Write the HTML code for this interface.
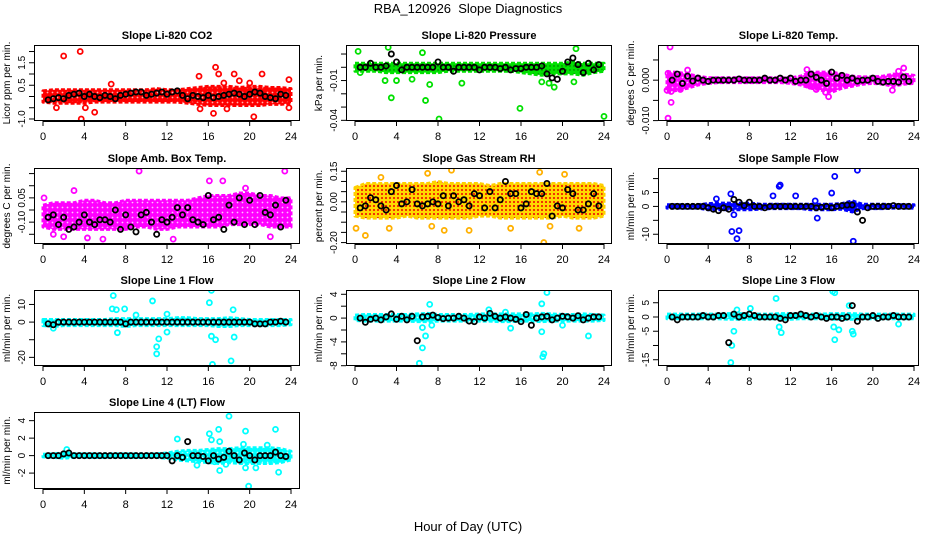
<!DOCTYPE html>
<html><head><meta charset="utf-8"><style>
html,body{margin:0;padding:0;background:#fff}
svg{display:block;font-family:"Liberation Sans",Arial,sans-serif}
</style></head><body>
<svg id="chart" width="936" height="540" viewBox="0 0 936 540" xmlns="http://www.w3.org/2000/svg">
<defs>
<pattern id="p-red" width="5" height="5" patternUnits="userSpaceOnUse"><rect width="5" height="5" fill="#f00"/><circle cx="2.5" cy="2.5" r="0.9" fill="#ffb0b0"/></pattern>
<pattern id="p-green" width="4" height="4" patternUnits="userSpaceOnUse"><rect width="4" height="4" fill="#00e000"/><circle cx="2" cy="2" r="0.7" fill="#006000"/></pattern>
<pattern id="p-mag" width="5" height="5" patternUnits="userSpaceOnUse"><rect width="5" height="5" fill="#f0f"/><circle cx="2.5" cy="2.5" r="0.9" fill="#ffc0ff"/></pattern>
<pattern id="p-rh" width="4" height="4" patternUnits="userSpaceOnUse"><rect width="4" height="4" fill="#ffd800"/><circle cx="2" cy="2" r="1" fill="#e00"/></pattern>
<pattern id="p-blue" width="5" height="5" patternUnits="userSpaceOnUse"><rect width="5" height="5" fill="#00f"/><circle cx="2.5" cy="2.5" r="0.8" fill="#8080ff"/></pattern>
<pattern id="p-cyan" width="5" height="5" patternUnits="userSpaceOnUse"><rect width="5" height="5" fill="#0ff"/><circle cx="2.5" cy="2.5" r="0.9" fill="#c0ffff"/></pattern>
</defs>
<text x="468" y="13" text-anchor="middle" font-size="13" xml:space="preserve">RBA_120926  Slope Diagnostics</text>
<text x="468" y="531" text-anchor="middle" font-size="13">Hour of Day (UTC)</text>
</svg>
<script>
// hours for hourly means (0.5 .. 23.5)
const meanHours = [0.5,1,1.5,2,2.5,3,3.5,4,4.5,5,5.5,6,6.5,7,7.5,8,8.5,9,9.5,10,10.5,11,11.5,12,12.5,13,13.5,14,14.5,15,15.5,16,16.5,17,17.5,18,18.5,19,19.5,20,20.5,21,21.5,22,22.5,23,23.5];
const bandHours = [0,1,2,3,4,5,6,7,8,9,10,11,12,13,14,15,16,17,18,19,20,21,22,23,24];
const xTicks = [0,4,8,12,16,20,24];

const co2Means = [-.15,-.1,-.05,-.1,.05,.1,.15,0,.1,0,-.05,.05,0,-.1,.05,.1,.15,.2,.2,.05,.1,.15,.2,.1,.2,.25,.05,-.1,.05,0,-.05,.05,-.05,0,.05,.1,.15,.1,0,.1,.2,.15,0,-.05,-.1,.1,.05];
const co2Lo = [-.25,-.3,-.3,-.3,-.3,-.25,-.25,-.25,-.25,-.25,-.25,-.25,-.25,-.25,-.3,-.35,-.4,-.4,-.4,-.4,-.4,-.4,-.35,-.35,-.3];
const co2Hi = [.25,.3,.3,.3,.3,.3,.3,.3,.3,.3,.3,.35,.3,.3,.35,.4,.45,.45,.45,.4,.45,.45,.4,.4,.35];
const co2Out = [[2,1.8],[3.6,2.0],[3.7,-1.0],[5,-0.7],[1.3,-0.5],[15.1,0.9],[16.7,1.3],[17,1.0],[17.5,0.6],[18.5,1.0],[19,0.7],[20,0.6],[20.4,-0.9],[16.5,-0.75],[21.2,1.0],[23.8,0.75],[23.8,-0.5],[15.2,-0.55],[17.8,-0.55],[4.1,-0.5],[6.6,0.55]];

const presMeans = [0,0,.003,0,0,.001,.01,.004,-.002,0,0,0,0,0,0,.004,0,0,-.003,0,0,0,0,-.002,0,0,0,-.001,0,-.002,-.001,-.001,0,0,0,.001,-.005,-.008,-.009,-.003,.004,.007,.002,-.004,.003,-.002,.002];
const presLo = [-.003,-.003,-.003,-.004,-.004,-.004,-.004,-.004,-.004,-.003,-.003,-.003,-.003,-.003,-.003,-.003,-.004,-.005,-.006,-.005,-.005,-.005,-.006,-.004,-.003];
const presHi = [.003,.003,.003,.003,.003,.003,.003,.003,.003,.003,.003,.003,.003,.003,.003,.003,.003,.003,.003,.003,.003,.004,.003,.003,.003];
const presOut = [[0.3,.012],[3.2,.015],[3.6,.020],[3.5,-.023],[6.8,-.025],[8.1,-.039],[7.2,-.013],[6.5,.011],[15.9,-.031],[24,-.037],[21.3,.014],[0.5,-.004],[18,-.011],[19.2,-.015],[2.9,-.010],[4,-.010],[10.3,-.012],[18.7,-.012],[21.1,-.011],[5.5,-.009]];

const tempMeans = [0,.0015,-.0008,.001,-.0002,.0005,0,-.0003,0,0,0,0,0,.0003,0,0,0,0,.0005,0,0,.0005,0,.0005,-.0003,0,0,.0015,.0007,0,-.0008,.002,.0005,.0012,0,.0005,-.0002,0,0,.0005,-.0003,-.0005,-.0003,-.0003,-.0005,.0008,-.0003];
const tempLo = [-.003,-.0025,-.002,-.0012,-.0008,-.0006,-.0006,-.0006,-.0006,-.0006,-.0006,-.0006,-.0008,-.0012,-.002,-.0025,-.003,-.002,-.0015,-.001,-.0008,-.001,-.0015,-.001,-.0008];
const tempHi = [.002,.002,.0015,.001,.0006,.0006,.0006,.0006,.0006,.0006,.0006,.0006,.0006,.001,.002,.002,.002,.0015,.001,.0008,.0008,.001,.0015,.0015,.0012];
const tempOut = [[0.3,.0082],[0.1,.0017],[0,-.0025],[0.4,-.0028],[0.1,-.0094],[2,.0025],[1.3,-.0023],[14.5,-.0023],[15.4,-.0030],[15.7,-.0041],[13.6,.0026],[23,.0030],[22.5,.0022],[21.9,-.0025],[13.9,-.0015],[0.4,-.0055]];

const ambMeans = [-.03,-.02,-.06,-.03,-.08,-.07,-.05,-.02,-.05,-.06,-.04,-.04,-.05,0,-.08,-.02,-.07,-.09,-.02,-.01,-.05,-.1,-.04,-.05,-.03,.01,-.02,.01,-.04,-.05,-.06,.06,-.04,-.03,-.08,.02,-.05,.05,-.06,.04,-.06,.06,-.01,-.02,.02,-.07,.04];
const ambLo = [-.07,-.08,-.08,-.08,-.08,-.08,-.08,-.08,-.08,-.07,-.07,-.08,-.08,-.07,-.07,-.07,-.07,-.07,-.06,-.06,-.06,-.06,-.07,-.07,-.07];
const ambHi = [.02,.03,.03,.03,.04,.04,.03,.03,.04,.04,.04,.04,.04,.04,.04,.05,.06,.06,.06,.07,.07,.06,.06,.05,.05];
const ambOut = [[9.3,.16],[23.4,.16],[16.1,.12],[17.4,.12],[3,.08],[11.4,-.155],[0.1,.05],[1,-.10],[4.3,-.115],[5.8,-.12],[19.6,.09],[2,-.11],[12.6,-.12],[22,-.11]];

const rhMeans = [-.03,-.02,.02,.01,-.02,-.04,.05,.08,-.01,0,.06,-.01,-.02,-.01,0,-.01,.03,-.02,.03,0,.01,-.02,.04,.03,-.03,.05,-.03,.01,.1,.04,.04,-.03,-.01,.05,.04,.04,.09,-.07,-.02,-.03,.06,.04,-.04,-.04,-.01,.04,-.02];
const rhLo = [-.07,-.08,-.08,-.08,-.08,-.07,-.08,-.08,-.08,-.08,-.08,-.08,-.07,-.07,-.08,-.08,-.08,-.08,-.08,-.08,-.07,-.08,-.08,-.08,-.07];
const rhHi = [.07,.09,.09,.09,.09,.09,.09,.09,.1,.09,.09,.09,.09,.08,.09,.09,.09,.09,.09,.09,.09,.09,.09,.09,.08];
const rhOut = [[0.1,-.13],[1,-.165],[7,.14],[9.3,.155],[17.8,.145],[20.2,.135],[18.2,-.2],[8.6,-.14],[11,-.14],[2.5,.12],[3.3,-.13],[7.4,-.12],[15,-.13],[21.6,-.13],[18.8,-.12]];

const sampMeans = [0,0,0,0,0,0,0,-.5,-1,-1.5,-.5,-1,2.5,1.5,.3,1.5,0,0,-.5,0,0,0,0,0,0,0,0,0,-.5,-.3,0,-.5,0,.3,.5,.5,-2,-5,-.5,0,0,0,0,.3,0,0,0];
const sampLo = [-.6,-.6,-.6,-.6,-1.2,-1.2,-1.2,-1.2,-1.2,-1,-.8,-.8,-.8,-.8,-1.2,-1.2,-1.2,-1,-2,-.8,-.8,-.8,-.6,-.6,-.6];
const sampHi = [.6,.6,.6,.6,1,1.2,1.2,1.2,1.2,.8,.8,.8,.8,.8,.8,.8,.8,1,2,.8,.8,.8,.6,.6,.6];
const sampOut = [[6.3,-9],[6.8,-11.6],[7,-8.7],[6.2,4.5],[10.9,7.2],[11,7.7],[10.3,3.8],[12.5,3.8],[16,4.8],[16.3,10.8],[18.5,13],[18.1,-12.5],[14.6,-4.2],[6.5,-3],[4.8,2.7],[14.4,2]];

const l1Means = [-1,-1.5,0,0,0,0,0,0,0,0,0,0,0,0,0,-1,0,0,0,0,0,0,0,0,0,0,0,0,0,0,0,0,0,0,0,0,0,0,0,0,-1,-1,-1,0,0,.5,0];
const l1Lo = [-2,-2.5,-2,-2,-2,-2,-2,-2,-2.5,-2,-2,-2,-2,-2,-2,-2,-2,-2.5,-2.5,-2,-2,-2,-2,-2,-1.5];
const l1Hi = [1.5,1.5,1.5,1.5,1.5,1.5,1.5,2,2,2,2,2,2,2.5,2.5,2,2,2,2.5,2,1.5,1.5,1.5,1.5,1.5];
const l1Out = [[6.8,15],[6.7,7.5],[7.1,7],[7.9,7.5],[7.2,-6],[10.6,12],[11,-14],[11.2,-9.5],[11,-18],[12,-5.7],[16.1,11],[16.3,-8],[16.7,-10],[16.4,-24],[16.3,18],[18.2,-22],[18.4,7],[18.5,-8.5],[12,4.5],[9,4],[1,-3.5]];

const l2Means = [0,-.7,-.2,0,-.3,.2,.7,-.2,.3,-.3,.3,-3.8,.2,.3,.5,.1,-.1,0,0,.3,0,-.5,-.6,.2,0,.8,.3,0,.2,0,-.2,-.6,.6,-1.2,0,.2,.3,-.3,0,.3,.2,0,.4,-.3,0,.2,.2];
const l2Lo = [-.4,-.5,-.5,-.5,-.5,-.5,-.6,-.6,-.5,-.5,-.5,-.5,-.5,-.5,-.6,-.6,-.5,-.5,-.6,-.5,-.5,-.5,-.5,-.5,-.4];
const l2Hi = [.5,.6,.6,.6,.6,.6,.7,.8,.6,.6,.6,.6,.7,.7,.7,.7,.7,.7,.8,.7,.6,.6,.7,.6,.5];
const l2Out = [[6.2,-7.6],[6.5,-5],[6.8,-3],[7.2,2.3],[6.5,-1.6],[18.5,4.3],[18,2.4],[18.1,-6.5],[18.2,-6],[22.5,-3],[18,-2.3],[12.9,1.4],[15,-1.7],[14.5,1],[20,-1.2],[7.4,-1.2]];

const l3Means = [0,-1,0,0,0,0,.5,0,0,.5,.5,-9,1,0,.5,1,.5,0,0,0,0,-.5,-1,.5,.5,1,.5,0,.5,0,-.5,0,0,-.5,0,4,-1.5,0,0,.5,-.5,0,0,.5,0,0,0];
const l3Lo = [-.6,-.6,-.6,-.6,-.6,-.6,-.8,-.8,-.8,-.6,-.6,-.8,-.8,-.6,-.6,-.6,-.8,-.8,-.8,-.6,-.6,-.6,-.6,-.6,-.6];
const l3Hi = [1,1,1,1,1,1,1.2,1.2,1,1,1,1.2,1.2,1,1,1,1.2,1.2,1.2,1,1,1,1,1,1];
const l3Out = [[6.2,-16],[6.3,-10],[6.5,-5],[10.6,6.5],[10.9,-3.5],[11.1,-5.5],[16.1,9],[16.3,8.5],[16.2,-3.5],[16.3,-8],[18,-5],[18.1,-6],[22.5,-2.5],[17.7,4],[6.8,2.5],[8.1,3],[16.7,-4.5]];

const l4Means = [0,0,0,.2,.3,0,0,0,0,0,0,0,0,0,0,0,0,0,0,0,0,0,0,0,-.6,0,-.2,1.6,0,0,-.1,-.6,0,-.4,-.2,.5,0,-.5,.3,0,-.5,0,0,0,.4,0,-.1];
const l4Lo = [-.15,-.2,-.3,-.2,-.2,-.2,-.2,-.2,-.2,-.2,-.2,-.2,-.3,-.5,-.6,-.7,-.8,-.9,-.8,-.9,-.9,-.9,-.9,-.8,-.5];
const l4Hi = [.15,.2,.3,.2,.2,.2,.2,.2,.2,.2,.2,.2,.3,.5,.6,.6,.7,.8,.8,.9,.9,.9,.9,.8,.5];
const l4Out = [[2.3,.7],[13,1.9],[14.9,-1.1],[16.1,2.5],[16.3,1.8],[17,3],[17.1,1.6],[17.1,-1.7],[18,4.5],[19.6,2.8],[19.9,-3.5],[22.5,3],[22.8,-1.9],[19.6,-1.4],[20.6,-1.4],[17.7,-1],[16.6,-.7],[19.4,1.3],[21.7,1.2]];

const cols = [{l:34,r:300,x0:43,x1:291},{l:346,r:612,x0:355,x1:604},{l:658,r:919,x0:667,x1:914}];
const rows = [{t:45,b:121},{t:168,b:244},{t:290,b:366},{t:412,b:489}];

const panels = [
 {key:'co2',c:0,r:0,title:'Slope Li-820 CO2',ylab:'Licor ppm per min.',dom:[-1.09,2.29],ticks:[-1,-.5,0,.5,1,1.5,2],labs:{'-1':'-1.0','0.5':'0.5','1.5':'1.5'},col:'#f00',pat:'p-red',means:co2Means,lo:co2Lo,hi:co2Hi,out:co2Out},
 {key:'pressure',c:1,r:0,title:'Slope Li-820 Pressure',ylab:'kPa per min.',dom:[-.0405,.0168],ticks:[.01,0,-.01,-.02,-.03,-.04],labs:{'-0.01':'-0.01','-0.04':'-0.04'},col:'#00e000',pat:'p-green',means:presMeans,lo:presLo,hi:presHi,out:presOut},
 {key:'temp',c:2,r:0,title:'Slope Li-820 Temp.',ylab:'degrees C per min.',dom:[-.0101,.0087],ticks:[.005,0,-.005,-.01],labs:{'0':'0.000','-0.01':'-0.010'},col:'#f0f',pat:'p-mag',means:tempMeans,lo:tempLo,hi:tempHi,out:tempOut},
 {key:'amb',c:0,r:1,title:'Slope Amb. Box Temp.',ylab:'degrees C per min.',dom:[-.14,.173],ticks:[.15,.1,.05,0,-.05,-.1],labs:{'0.05':'0.05','-0.05':'-0.10'},col:'#f0f',pat:'p-mag',means:ambMeans,lo:ambLo,hi:ambHi,out:ambOut},
 {key:'rh',c:1,r:1,title:'Slope Gas Stream RH',ylab:'percent per min.',dom:[-.207,.166],ticks:[.15,.1,.05,0,-.05,-.1,-.15,-.2],labs:{'0.15':'0.15','0':'0.00','-0.2':'-0.20'},col:'#ffd000',pat:'p-rh',means:rhMeans,lo:rhLo,hi:rhHi,out:rhOut},
 {key:'sample',c:2,r:1,title:'Slope Sample Flow',ylab:'ml/min per min.',dom:[-13.5,13.8],ticks:[10,5,0,-5,-10],labs:{'5':'5','0':'0','-10':'-10'},col:'#00f',pat:'p-blue',means:sampMeans,lo:sampLo,hi:sampHi,out:sampOut},
 {key:'line1',c:0,r:2,title:'Slope Line 1 Flow',ylab:'ml/min per min.',dom:[-24.9,18.2],ticks:[10,0,-10,-20],labs:{'10':'10','0':'0','-20':'-20'},col:'#0ff',pat:'p-cyan',means:l1Means,lo:l1Lo,hi:l1Hi,out:l1Out},
 {key:'line2',c:1,r:2,title:'Slope Line 2 Flow',ylab:'ml/min per min.',dom:[-8.05,4.72],ticks:[4,2,0,-2,-4,-6,-8],labs:{'4':'4','0':'0','-4':'-4','-8':'-8'},col:'#0ff',pat:'p-cyan',means:l2Means,lo:l2Lo,hi:l2Hi,out:l2Out},
 {key:'line3',c:2,r:2,title:'Slope Line 3 Flow',ylab:'ml/min per min.',dom:[-17.2,9.47],ticks:[5,0,-5,-10,-15],labs:{'5':'5','0':'0','-5':'-5','-15':'-15'},col:'#0ff',pat:'p-cyan',means:l3Means,lo:l3Lo,hi:l3Hi,out:l3Out},
 {key:'line4',c:0,r:3,title:'Slope Line 4 (LT) Flow',ylab:'ml/min per min.',dom:[-3.82,4.99],ticks:[4,2,0,-2],labs:{'4':'4','2':'2','0':'0','-2':'-2'},col:'#0ff',pat:'p-cyan',means:l4Means,lo:l4Lo,hi:l4Hi,out:l4Out}
];

const NS='http://www.w3.org/2000/svg';
const svg=document.getElementById('chart');
function mk(tag,attrs,parent){const e=document.createElementNS(NS,tag);for(const k in attrs)e.setAttribute(k,attrs[k]);(parent||svg).appendChild(e);return e;}

panels.forEach(p=>{
  const C=cols[p.c],R=rows[p.r];
  const xs=h=>C.x0+(h/24)*(C.x1-C.x0);
  const ys=v=>R.b-(v-p.dom[0])/(p.dom[1]-p.dom[0])*(R.b-R.t);
  const g=mk('g',{});
  
  
  const clipId='clip-'+p.key;
  const cp=mk('clipPath',{id:clipId},g);
  mk('rect',{x:C.l,y:R.t,width:C.r-C.l,height:R.b-R.t},cp);
  const plot=mk('g',{'clip-path':'url(#'+clipId+')'},g);
  let pts=bandHours.map((h,i)=>xs(h)+','+ys(p.hi[i]));
  pts=pts.concat(bandHours.slice().reverse().map((h,j)=>{const i=bandHours.length-1-j;return xs(h)+','+ys(p.lo[i]);}));
  const band=mk('polygon',{points:pts.join(' '),fill:'url(#'+p.pat+')',stroke:p.col,'stroke-width':3,'stroke-linejoin':'round','stroke-dasharray':'4 2'},plot);
  
  
  p.out.forEach(o=>{
    const c=mk('circle',{cx:xs(o[0]),cy:ys(o[1]),r:2.5,fill:'none',stroke:p.col==='#ffd000'?'#ffb000':p.col,'stroke-width':1.8},plot);
    
    
  });
  p.means.forEach((v,i)=>{
    const c=mk('circle',{cx:xs(meanHours[i]),cy:ys(v),r:2.6,fill:'none',stroke:'#000','stroke-width':1.8},plot);
    
    
  });
  const box=mk('rect',{x:C.l+0.5,y:R.t+0.5,width:C.r-C.l-1,height:R.b-R.t-1,fill:'none',stroke:'#000','stroke-width':1},g);
  
  
  const t=mk('text',{x:(C.l+C.r)/2,y:R.t-6,'text-anchor':'middle','font-size':11,'font-weight':'bold'},g);
  t.textContent=p.title;
  
  
  xTicks.forEach(h=>{
    mk('line',{x1:xs(h),x2:xs(h),y1:R.b,y2:R.b+5,stroke:'#000'},g);
    const tl=mk('text',{x:xs(h),y:R.b+19,'text-anchor':'middle','font-size':11},g);
    tl.textContent=h;
    
    
  });
  mk('line',{x1:xs(0),x2:xs(24),y1:R.b+0.5,y2:R.b+0.5,stroke:'#000'},g);
  p.ticks.forEach(v=>{
    const y=ys(v);
    mk('line',{x1:C.l-5,x2:C.l,y1:y,y2:y,stroke:'#000'},g);
    const lab=p.labs[String(v)];
    if(lab!==undefined){
      const tl=mk('text',{x:C.l-9,y:y,'text-anchor':'middle','font-size':10,transform:'rotate(-90 '+(C.l-9)+' '+y+')'},g);
      tl.textContent=lab;
      
      
    }
  });
  const ym=(R.t+R.b)/2, yx=C.l-24;
  const yl=mk('text',{x:yx,y:ym,'text-anchor':'middle','font-size':10,transform:'rotate(-90 '+yx+' '+ym+')'},g);
  yl.textContent=p.ylab;
  
  
});
</script>
</body></html>
